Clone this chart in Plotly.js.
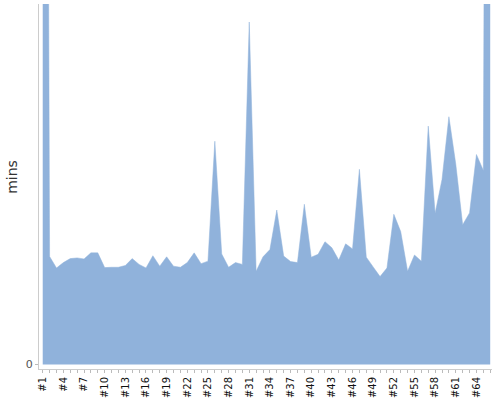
<!DOCTYPE html>
<html>
<head>
<meta charset="utf-8">
<script src="https://cdn.plot.ly/plotly-3.0.1.min.js"></script>
<style>
  html, body { margin: 0; padding: 0; background: #fff; }
  #container { width: 500px; height: 400px; }
</style>
</head>
<body>
<div id="container"></div>
<script>
// session labels #1 .. #66
var sessions = [];
for (var i = 1; i <= 66; i++) sessions.push('#' + i);

// minutes per session (first and last run off the top of the chart)
var mins = [
  560, 30.0, 26.8, 28.3, 29.4, 29.6, 29.3, 31.0, 31.0, 26.9,
  27.0, 27.0, 27.5, 29.4, 27.8, 26.8, 30.2, 27.3, 29.9, 27.3,
  27.0, 28.3, 31.0, 28.0, 28.7, 62.0, 30.7, 27.0, 28.3, 27.8,
  95.1, 25.9, 29.9, 31.9, 42.9, 30.1, 28.6, 28.3, 44.5, 29.8,
  30.6, 34.1, 32.4, 29.0, 33.5, 32.1, 54.2, 29.8, 27.1, 24.4,
  26.8, 41.7, 36.9, 25.9, 30.4, 28.7, 66.2, 42.0, 51.4, 68.8,
  55.6, 38.8, 42.1, 58.3, 53.9, 560
];

// only every third label is written, every session gets a tick
var tickText = sessions.map(function(s, idx) {
    return idx % 3 === 0 ? s : '';
});

var trace = {
    x: sessions,
    y: mins,
    type: 'scatter',
    mode: 'lines',
    fill: 'tozeroy',
    fillcolor: 'rgb(144,178,219)',
    line: { color: 'rgb(144,178,219)', width: 0.5 },
    hoverinfo: 'x+y'
};

var layout = {
    width: 500,
    height: 400,
    margin: { l: 39, r: 8, t: 4, b: 31 },
    paper_bgcolor: '#fff',
    plot_bgcolor: '#fff',
    showlegend: false,
    font: { family: 'DejaVu Sans, Verdana, sans-serif', color: '#333' },
    xaxis: {
        type: 'category',
        range: [-0.54, 65.26],
        tickmode: 'array',
        tickvals: sessions,
        ticktext: tickText,
        tickangle: -90,
        tickfont: { size: 10, color: '#111' },
        ticks: 'outside',
        ticklen: 3,
        tickcolor: '#bbb',
        showline: true,
        linecolor: '#ccc',
        showgrid: false,
        zeroline: false,
        automargin: false,
        fixedrange: true
    },
    yaxis: {
        range: [-1.25, 100.1],
        tickmode: 'array',
        tickvals: [0],
        ticktext: ['0'],
        tickfont: { size: 11, color: '#555' },
        ticks: 'outside',
        ticklen: 3,
        tickcolor: '#bbb',
        showline: true,
        linecolor: '#ccc',
        showgrid: false,
        zeroline: false,
        automargin: false,
        fixedrange: true
    },
    // axis title placed by hand so it sits where the original has it
    annotations: [{
        text: 'mins',
        xref: 'paper', yref: 'paper',
        x: -0.06, y: 0.526,
        xanchor: 'center', yanchor: 'middle',
        textangle: -90,
        showarrow: false,
        font: { size: 14, color: '#333' }
    }]
};

Plotly.newPlot('container', [trace], layout, { displayModeBar: false, staticPlot: true });
</script>
</body>
</html>
